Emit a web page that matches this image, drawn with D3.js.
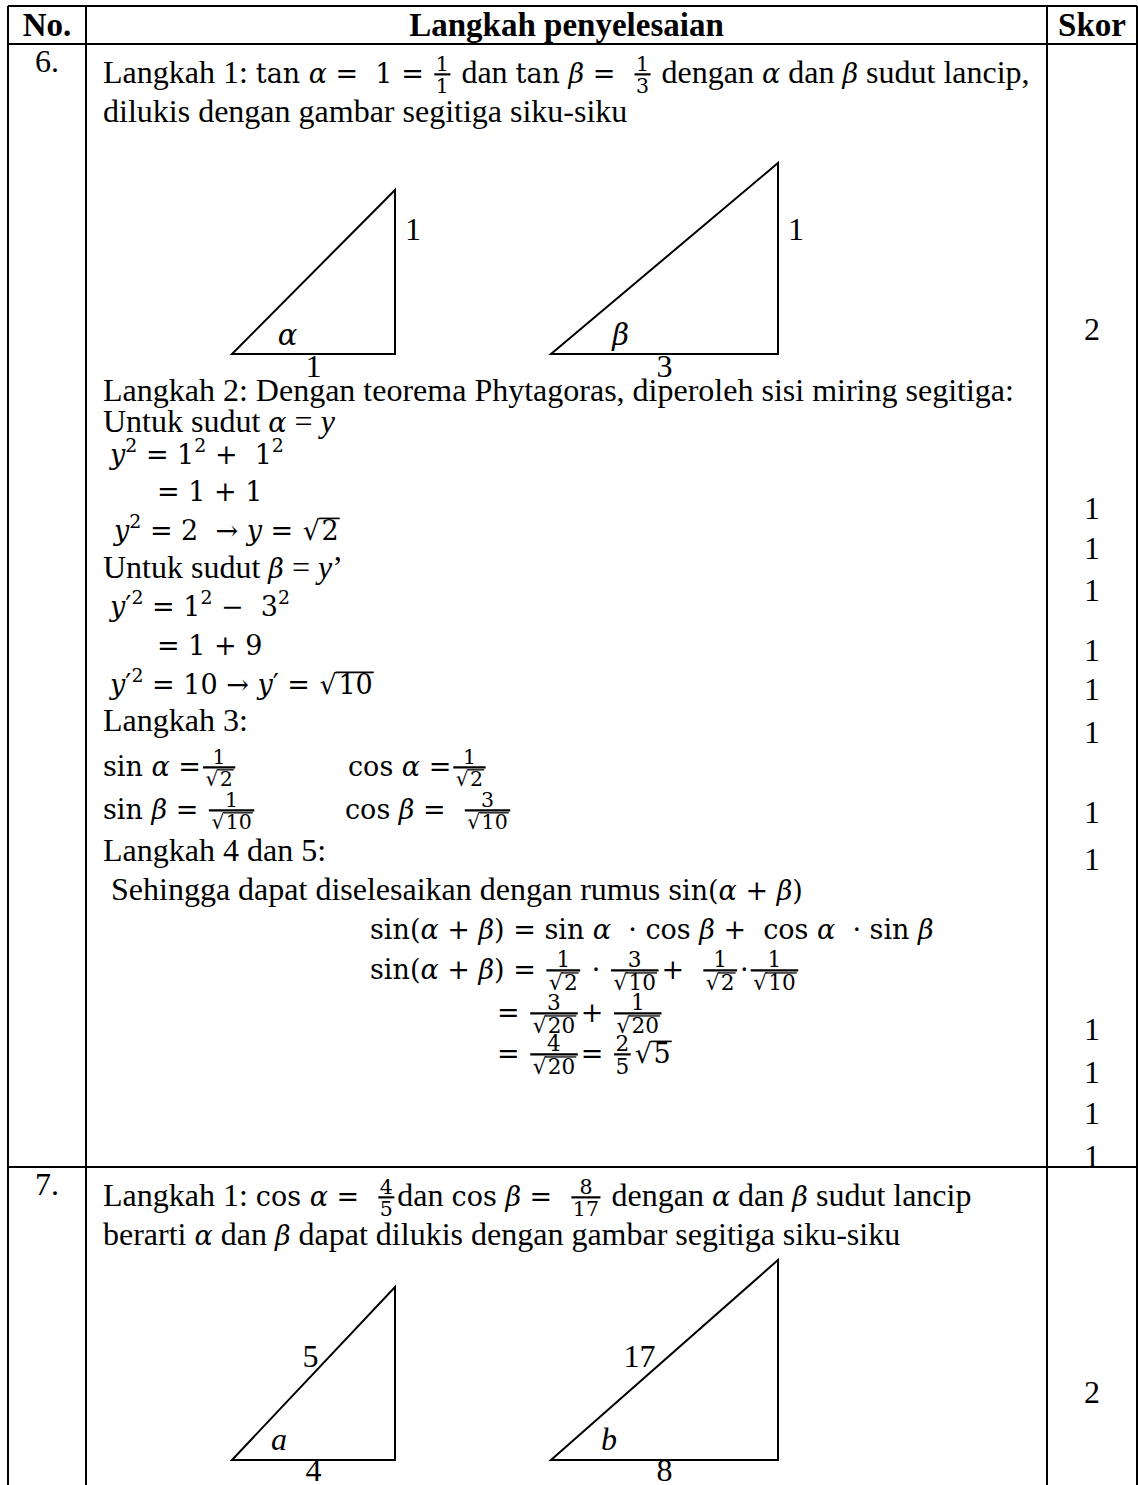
<!DOCTYPE html>
<html lang="id">
<head>
  <meta charset="utf-8">
  <title>Langkah penyelesaian</title>
  <script src="https://d3js.org/d3.v7.min.js"></script>
  <style>
    body { margin: 0; background: #fff; }
    #sheet text { font-family: "Liberation Serif", "Times New Roman", serif; fill: #000; white-space: pre; }
    #sheet text.m { font-family: "DejaVu Serif", serif; }
  </style>
</head>
<body>
  <div id="sheet"></div>
  <script>
    "use strict"

    // isi tabel
    var headers = ['No.', 'Langkah penyelesaian', 'Skor'];
    var rowNumbers = ['6.', '7.'];
    var scores6 = [2, 1, 1, 1, 1, 1, 1, 1, 1, 1, 1, 1, 1];
    var scores7 = [2];
    var tri6 = [{ base: '1', side: '1', angle: 'α' }, { base: '3', side: '1', angle: 'β' }];
    var tri7 = [{ base: '4', hyp: '5', angle: 'a' }, { base: '8', hyp: '17', angle: 'b' }];

    // posisi (layout)
    var W = 1138, H = 1485, F = 32, M = 27;
    var colX = [8, 86, 1047, 1137];
    var rowY = [6, 44, 1167];
    var scoreY6 = [340, 519, 559, 601, 661, 700, 743, 823, 870, 1040, 1083, 1124, 1167];
    var scoreY7 = [1403];

    var svg = d3.select('#sheet').append('svg')
      .attr('width', W).attr('height', H);

    // --- helper teks & rumus ---
    function txt(g, x, y, s, size, italic, math) {
      var t = g.append('text').attr('x', x).attr('y', y)
        .attr('class', math ? 'm' : null)
        .attr('font-size', size)
        .attr('font-style', italic ? 'italic' : null)
        .text(s);
      return x + t.node().getComputedTextLength();
    }
    // k = faktor skala (1 untuk baris biasa, lebih kecil di dalam pecahan)
    function run(g, x, y, items, k) {
      [].concat(items).forEach(function (it) { x = piece(g, x, y, it, k); });
      return x;
    }
    function piece(g, x, y, it, k) {
      var ms = M * k;
      if (typeof it === 'string') return txt(g, x, y, it, F * k);
      if (it.i) return txt(g, x, y, it.i, F * k, true);
      if (it.m) return txt(g, x, y, it.m, ms, false, true);
      if (it.mi) return txt(g, x, y, it.mi, ms, true, true);
      if (it.sup) return txt(g, x, y - ms * 0.45, it.sup, ms * 0.7, false, true);
      if (it.sqrt) {
        var x1 = txt(g, x + 1, y, '√', ms, false, true) + ms * 0.06;
        var x2 = txt(g, x1, y, it.sqrt, ms, false, true);
        g.append('line')
          .attr('x1', x1 - ms * 0.1).attr('x2', x2 + 1)
          .attr('y1', y - ms * 0.8).attr('y2', y - ms * 0.8)
          .attr('stroke', '#000').attr('stroke-width', Math.max(1.3, ms * 0.06));
        return x2 + 1;
      }
      if (it.frac) {
        var fk = k * (it.k || 0.76);
        var ng = g.append('g'), dg = g.append('g');
        var nw = run(ng, 0, 0, it.frac[0], fk);
        var dw = run(dg, 0, 0, it.frac[1], fk);
        var w = Math.max(nw, dw) + 3;
        var axis = y - ms * 0.32;
        ng.attr('transform', 'translate(' + (x + 2 + (w - nw) / 2) + ',' + (axis - ms * 0.12) + ')');
        dg.attr('transform', 'translate(' + (x + 2 + (w - dw) / 2) + ',' + (axis + M * fk * 0.92) + ')');
        g.append('line').attr('x1', x + 2).attr('x2', x + 2 + w)
          .attr('y1', axis).attr('y2', axis)
          .attr('stroke', '#000').attr('stroke-width', 2.2);
        return x + w + 5;
      }
      return x;
    }

    // --- garis tabel ---
    var grid = svg.append('g').attr('stroke', '#000').attr('stroke-width', 2);
    grid.selectAll('line.v').data(colX).enter().append('line')
      .attr('x1', function (d) { return d; }).attr('x2', function (d) { return d; })
      .attr('y1', rowY[0]).attr('y2', H);
    grid.selectAll('line.h').data(rowY).enter().append('line')
      .attr('x1', colX[0]).attr('x2', colX[3])
      .attr('y1', function (d) { return d; }).attr('y2', function (d) { return d; });

    // header
    var headX = [(colX[0] + colX[1]) / 2, (colX[1] + colX[2]) / 2, (colX[2] + colX[3]) / 2];
    svg.selectAll('text.head').data(headers).enter().append('text')
      .attr('x', function (d, i) { return headX[i]; })
      .attr('y', 36)
      .attr('text-anchor', 'middle')
      .attr('font-size', F + 1)
      .attr('font-weight', 'bold')
      .text(function (d) { return d; });

    // nomor soal
    svg.selectAll('text.no').data(rowNumbers).enter().append('text')
      .attr('x', headX[0]).attr('y', function (d, i) { return i === 0 ? 72 : 1195; })
      .attr('text-anchor', 'middle').attr('font-size', F).text(function (d) { return d; });

    // skor
    function drawScores(vals, ys) {
      svg.append('g').selectAll('text').data(vals).enter().append('text')
        .attr('x', headX[2]).attr('y', function (d, i) { return ys[i]; })
        .attr('text-anchor', 'middle').attr('font-size', F)
        .text(function (d) { return d; });
    }
    drawScores(scores6, scoreY6);
    drawScores(scores7, scoreY7);

    // --- segitiga siku-siku ---
    var lineGen = d3.line();
    function drawTriangles(list, layout, baseY, hypLabel) {
      list.forEach(function (t, i) {
        var L = layout[i];
        var x = d3.scaleLinear().domain([0, 1]).range([L.x, L.x + L.w]);
        var y = d3.scaleLinear().domain([0, 1]).range([baseY, baseY - L.h]);
        var g = svg.append('g');
        g.append('path')
          .attr('d', lineGen([[x(0), y(0)], [x(1), y(0)], [x(1), y(1)]]) + 'Z')
          .attr('fill', 'none').attr('stroke', '#000').attr('stroke-width', 2);
        if (hypLabel) txt(g, x(L.ax), y(0) - 10, t.angle, F, true);
        else txt(g, x(L.ax), y(0) - 9, t.angle, M + 2, true, true);
        g.append('text').attr('x', x(0.5)).attr('y', y(0) + (hypLabel ? 21 : 23))
          .attr('text-anchor', 'middle').attr('font-size', F).text(t.base);
        if (hypLabel) {
          var ly = baseY - 93;
          g.append('text').attr('x', x(y.invert(ly)) - 1).attr('y', ly)
            .attr('text-anchor', 'end').attr('font-size', F).text(t.hyp);
        } else {
          g.append('text').attr('x', x(1) + 10).attr('y', baseY - 114)
            .attr('font-size', F).text(t.side);
        }
      });
    }
    drawTriangles(tri6, [{ x: 232, w: 163, h: 164, ax: 0.28 }, { x: 551, w: 227, h: 191, ax: 0.27 }], 354, false);
    drawTriangles(tri7, [{ x: 232, w: 163, h: 173, ax: 0.24 }, { x: 551, w: 227, h: 200, ax: 0.22 }], 1460, true);

    // --- langkah-langkah ---
    var body = svg.append('g');
    var a = { mi: 'α' }, b = { mi: 'β' }, yv = { mi: 'y' };
    var s2 = { sqrt: '2' }, s10 = { sqrt: '10' }, s20 = { sqrt: '20' };
    function m(s) { return { m: s }; }
    function fr(n, d, k) { return { frac: [n, d], k: k }; }
    var lines = [
      [103, 83, ['Langkah 1: ', m('tan '), a, m(' =  1 = '), fr(m('1'), m('1')), ' dan ', m('tan '), b, m(' =  '), fr(m('1'), m('3')), ' dengan ', a, ' dan ', b, ' sudut lancip,']],
      [103, 122, ['dilukis dengan gambar segitiga siku-siku']],
      [103, 401, ['Langkah 2: Dengan teorema Phytagoras, diperoleh sisi miring segitiga:']],
      [103, 432, ['Untuk sudut ', a, ' = ', { i: 'y' }]],
      [110, 464, [yv, { sup: '2' }, m(' = 1'), { sup: '2' }, m(' +  1'), { sup: '2' }]],
      [157, 501, [m('= 1 + 1')]],
      [114, 540, [yv, { sup: '2' }, m(' = 2  → '), yv, m(' = '), s2]],
      [103, 578, ['Untuk sudut ', b, ' = ', { i: 'y' }, '’']],
      [110, 616, [yv, m('′'), { sup: '2' }, m(' = 1'), { sup: '2' }, m(' −  3'), { sup: '2' }]],
      [157, 655, [m('= 1 + 9')]],
      [110, 694, [yv, m('′'), { sup: '2' }, m(' = 10 → '), yv, m('′ = '), s10]],
      [103, 731, ['Langkah 3:']],
      [103, 776, [m('sin '), a, m(' ='), fr(m('1'), s2)]],
      [348, 776, [m('cos '), a, m(' ='), fr(m('1'), s2)]],
      [103, 819, [m('sin '), b, m(' = '), fr(m('1'), s10)]],
      [345, 819, [m('cos '), b, m(' =  '), fr(m('3'), s10)]],
      [103, 861, ['Langkah 4 dan 5:']],
      [103, 900, [' Sehingga dapat diselesaikan dengan rumus ', m('sin('), a, m(' + '), b, m(')')]],
      [370, 939, [m('sin('), a, m(' + '), b, m(') = sin '), a, m('  · cos '), b, m(' +  cos '), a, m('  · sin '), b]],
      [370, 979, [m('sin('), a, m(' + '), b, m(') = '), fr(m('1'), s2, 0.8), m(' · '), fr(m('3'), s10, 0.8), m('+  '), fr(m('1'), s2, 0.8), m('·'), fr(m('1'), s10, 0.8)]],
      [497, 1022, [m('= '), fr(m('3'), s20, 0.8), m('+ '), fr(m('1'), s20, 0.8)]],
      [497, 1063, [m('= '), fr(m('4'), s20, 0.8), m('= '), fr(m('2'), m('5'), 0.8), { sqrt: '5' }]],
      // soal 7
      [103, 1206, ['Langkah 1: ', m('cos '), a, m(' =  '), fr(m('4'), m('5')), 'dan ', m('cos '), b, m(' =  '), fr(m('8'), m('17')), ' dengan ', a, ' dan ', b, ' sudut lancip']],
      [103, 1245, ['berarti ', a, ' dan ', b, ' dapat dilukis dengan gambar segitiga siku-siku']]
    ];
    lines.forEach(function (l) { run(body, l[0], l[1], l[2], 1); });
  </script>
</body>
</html>
